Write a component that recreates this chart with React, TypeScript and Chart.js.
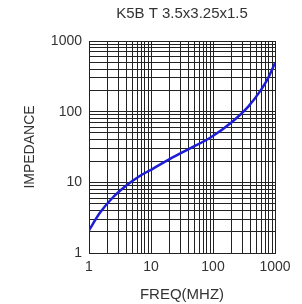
import React, { useEffect, useRef } from "react";
import { Chart, registerables } from "chart.js";

Chart.register(...registerables);

const chartTitle = "K5B T 3.5x3.25x1.5";
const xAxisTitle = "FREQ(MHZ)";
const yAxisTitle = "IMPEDANCE";
const xTickLabels = [1, 10, 100, 1000];
const yTickLabels = [1, 10, 100, 1000];
const freqMHz = [1, 1.5, 2.4, 4, 6.5, 11, 20, 42, 90, 200, 370, 610, 800, 1000];
const impedance = [2.1, 3.7, 6.05, 9.0, 12.2, 15.8, 21.3, 30, 42.7, 71, 118, 210, 316, 488];

const FONT = "'Liberation Sans', Arial, sans-serif";
const TEXT = "#333";

function decadeGrid(labels: number[]) {
  const out: { value: number }[] = [];
  for (let i = 0; i < labels.length - 1; i++) {
    for (let m = 1; m <= 9; m++) out.push({ value: labels[i] * m });
  }
  out.push({ value: labels[labels.length - 1] });
  return out;
}

const titlePlugin = {
  id: "customTitle",
  afterDraw(chart: any) {
    const ctx = chart.ctx;
    const a = chart.chartArea;
    ctx.save();
    ctx.font = `15px ${FONT}`;
    ctx.fillStyle = TEXT;
    ctx.textAlign = "center";
    ctx.textBaseline = "middle";
    ctx.fillText(chartTitle, (a.left + a.right) / 2, 14);
    ctx.restore();
  },
};

export default function App() {
  const ref = useRef<HTMLCanvasElement>(null);
  useEffect(() => {
    if (!ref.current) return;
    const chart = new Chart(ref.current, {
      type: "scatter",
      data: {
        datasets: [
          {
            data: freqMHz.map((f, i) => ({ x: f, y: impedance[i] })),
            showLine: true,
            borderColor: "#1c1cd6",
            borderWidth: 2.5,
            pointRadius: 0,
            cubicInterpolationMode: "monotone",
          },
        ],
      },
      options: {
        animation: false,
        responsive: false,
        maintainAspectRatio: false,
        layout: { padding: { top: 41, right: 27, left: 0, bottom: 0 } },
        plugins: { legend: { display: false }, tooltip: { enabled: false }, title: { display: false } },
        scales: {
          x: {
            type: "logarithmic",
            min: 1,
            max: 1000,
            afterBuildTicks: (s: any) => { s.ticks = decadeGrid(xTickLabels); },
            afterFit: (s: any) => { s.height = 51; },
            grid: { color: "#222", lineWidth: 1, drawTicks: false },
            border: { color: "#222", width: 1 },
            ticks: {
              autoSkip: false,
              maxRotation: 0,
              padding: 6,
              color: TEXT,
              font: { family: FONT, size: 14 },
              callback: (v: any) => (xTickLabels.includes(Number(v)) ? String(v) : ""),
            },
            title: { display: true, text: xAxisTitle, color: TEXT, font: { family: FONT, size: 15 }, padding: { top: 7, bottom: 0 } },
          },
          y: {
            type: "logarithmic",
            min: 1,
            max: 1000,
            afterBuildTicks: (s: any) => { s.ticks = decadeGrid(yTickLabels); },
            afterFit: (s: any) => { s.width = 89; },
            grid: { color: "#222", lineWidth: 1, drawTicks: false },
            border: { color: "#222", width: 1 },
            ticks: {
              autoSkip: false,
              padding: 7,
              color: TEXT,
              font: { family: FONT, size: 14 },
              callback: (v: any) => (yTickLabels.includes(Number(v)) ? String(v) : ""),
            },
            title: { display: true, text: yAxisTitle, color: TEXT, font: { family: FONT, size: 14 }, padding: { top: 22, bottom: 0 } },
          },
        },
      },
      plugins: [titlePlugin],
    } as any);
    return () => chart.destroy();
  }, []);
  return (
    <div style={{ position: "fixed", left: 0, top: 0, width: 302, height: 304, background: "#fff" }}>
      <canvas ref={ref} width={302} height={304} />
    </div>
  );
}
